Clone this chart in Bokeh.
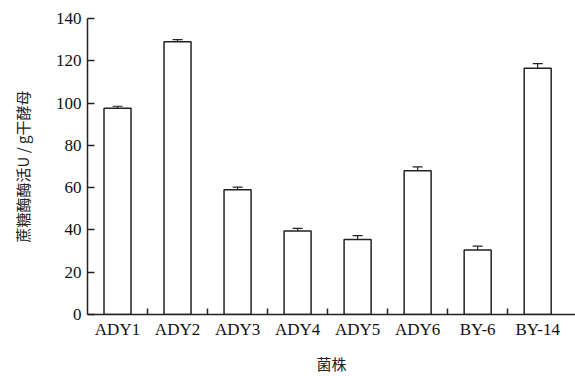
from bokeh.plotting import figure
from bokeh.models import ColumnDataSource, Whisker, FixedTicker, Range1d, TeeHead
from bokeh.embed import file_html
from bokeh.resources import INLINE

categories = ["ADY1", "ADY2", "ADY3", "ADY4", "ADY5", "ADY6", "BY-6", "BY-14"]
values = [97.5, 129, 59, 39.5, 35.5, 68, 30.5, 116.5]
errors = [1.0, 1.0, 1.2, 1.2, 1.8, 1.8, 1.8, 2.2]
y_ticks = [0, 20, 40, 60, 80, 100, 120, 140]

xs = [i + 0.5 for i in range(len(categories))]
src = ColumnDataSource(dict(
    x=xs, top=values,
    upper=[v + e for v, e in zip(values, errors)],
    lower=[v - e for v, e in zip(values, errors)],
))

p = figure(width=575, height=376, output_backend="svg", toolbar_location=None,
           x_range=Range1d(0, len(categories) + 0.13), y_range=Range1d(0, 140),
           min_border_top=18, min_border_right=0, min_border_left=87, min_border_bottom=60)
p.outline_line_color = None
p.grid.grid_line_color = None

p.vbar(x="x", top="top", width=0.45, bottom=0, source=src,
       fill_color="white", line_color="#222222", line_width=1.5)

w = Whisker(base="x", upper="upper", lower="lower", source=src,
            line_color="#222222", line_width=1.2,
            upper_head=TeeHead(size=10, line_color="#222222", line_width=1.2),
            lower_head=TeeHead(size=10, line_color="#222222", line_width=1.2))
p.add_layout(w)

font = "Liberation Serif"
p.xaxis.ticker = FixedTicker(ticks=xs, minor_ticks=list(range(1, len(categories))))
p.xaxis.major_label_overrides = {x: c for x, c in zip(xs, categories)}
p.xaxis.major_tick_in = 0
p.xaxis.major_tick_out = 0
p.xaxis.minor_tick_in = 6
p.xaxis.minor_tick_out = 0
p.xaxis.minor_tick_line_color = "#222222"
p.xaxis.minor_tick_line_width = 1.5
p.xaxis.major_label_standoff = 5
p.xaxis.axis_label = "菌株"
p.xaxis.axis_label_text_font = "Noto Sans CJK SC"
p.xaxis.axis_label_text_font_style = "normal"
p.xaxis.axis_label_text_font_size = "15px"
p.xaxis.axis_label_standoff = 11

p.yaxis.ticker = FixedTicker(ticks=y_ticks, minor_ticks=[])
p.yaxis.major_tick_in = 7
p.yaxis.major_tick_out = 0
p.yaxis.major_tick_line_width = 1.5
p.yaxis.major_tick_line_color = "#222222"
p.yaxis.major_label_standoff = 6
p.yaxis.axis_label = "蔗糖酶酶活U / g干酵母"
p.yaxis.axis_label_text_font = "Noto Sans CJK SC"
p.yaxis.axis_label_text_font_style = "normal"
p.yaxis.axis_label_text_font_size = "15px"
p.yaxis.axis_label_standoff = 20

for ax in (p.xaxis, p.yaxis):
    ax.axis_line_color = "#222222"
    ax.axis_line_width = 1.5
    ax.major_label_text_font = font
    ax.major_label_text_font_size = "17px"
    ax.major_label_text_color = "#111111"
    ax.axis_label_text_color = "#222222"

open("out.html", "w").write(file_html(p, INLINE))
